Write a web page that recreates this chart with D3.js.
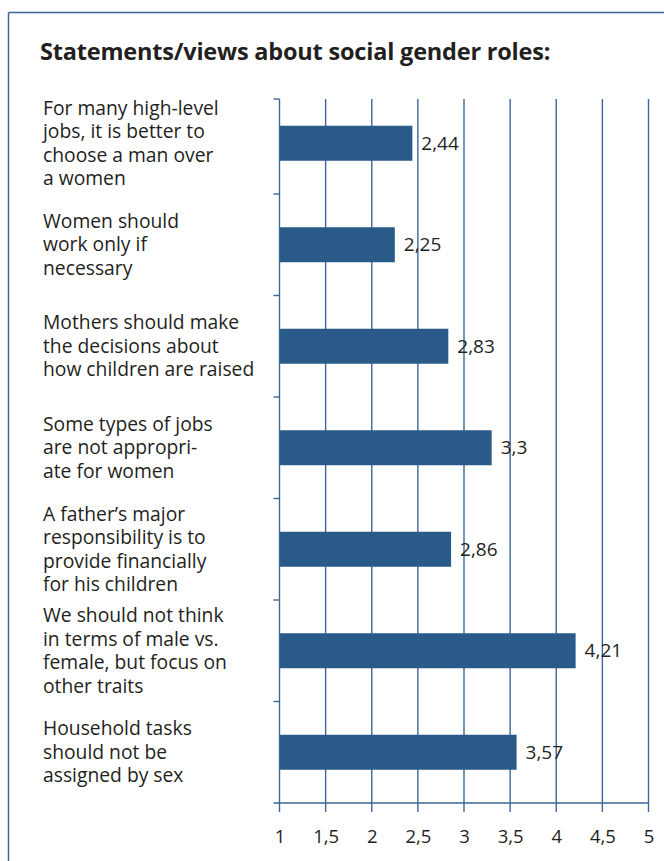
<!DOCTYPE html>
<html>
<head>
<meta charset="utf-8">
<script src="https://cdn.jsdelivr.net/npm/d3@7"></script>
<style>
  html, body { margin: 0; padding: 0; background: #fff; }
  svg { display: block; }
  text { font-family: "Open Sans", "Noto Sans", sans-serif; fill: #231f20; }
</style>
</head>
<body>
<svg id="chart" width="664" height="861"></svg>
<script>
// Survey statements (label lines) and mean agreement scores
const statements = [
  ["For many high-level", "jobs, it is better to", "choose a man over", "a women"],
  ["Women should", "work only if", "necessary"],
  ["Mothers should make", "the decisions about", "how children are raised"],
  ["Some types of jobs", "are not appropri-", "ate for women"],
  ["A father\u2019s major", "responsibility is to", "provide financially", "for his children"],
  ["We should not think", "in terms of male vs.", "female, but focus on", "other traits"],
  ["Household tasks", "should not be", "assigned by sex"]
];
const scores = [2.44, 2.25, 2.83, 3.3, 2.86, 4.21, 3.57];
const xTicks = [1, 1.5, 2, 2.5, 3, 3.5, 4, 4.5, 5];
const title = "Statements/views about social gender roles:";

const locale = d3.formatLocale({ decimal: ",", thousands: ".", grouping: [3], currency: ["", "\u20ac"] });
const fmt = v => locale.format("~g")(v);

const svg = d3.select("#chart");
const blue = "#2a5a88";
const gridBlue = "#3d6796";

// Panel frame: top and left rules
svg.append("line").attr("x1", 8.5).attr("x2", 664).attr("y1", 12.5).attr("y2", 12.5)
  .attr("stroke", gridBlue).attr("stroke-width", 1.5);
svg.append("line").attr("x1", 8.5).attr("x2", 8.5).attr("y1", 12.5).attr("y2", 861)
  .attr("stroke", gridBlue).attr("stroke-width", 1.5);

svg.append("text").attr("x", 40).attr("y", 60)
  .attr("font-size", 23.5).attr("font-weight", "bold")
  .attr("letter-spacing", -0.2)
  .text(title);

const x0 = 279.5, x1 = 648.5, yBottom = 803, step = 101.5, yTop = 99;
const x = d3.scaleLinear().domain([1, 5]).range([x0, x1]);
const y = d3.scaleBand().domain(d3.range(statements.length))
  .range([yBottom - step * statements.length, yBottom]).padding(0);

// Vertical gridlines with ticks below the axis
const grid = svg.append("g");
grid.selectAll("line").data(xTicks.slice(1)).join("line")
  .attr("x1", d => x(d)).attr("x2", d => x(d))
  .attr("y1", yTop).attr("y2", yBottom + 9)
  .attr("stroke", gridBlue).attr("stroke-width", 1.4);

// Bars
const barH = 35;
svg.append("g").selectAll("rect").data(scores).join("rect")
  .attr("x", x(1))
  .attr("y", (d, i) => y(i) + y.bandwidth() / 2 - barH / 2)
  .attr("width", d => x(d) - x(1))
  .attr("height", barH)
  .attr("fill", blue);

// Left axis with ticks at band boundaries
const yAxis = svg.append("g");
yAxis.append("line").attr("x1", x0).attr("x2", x0).attr("y1", yTop).attr("y2", yBottom + 9)
  .attr("stroke", gridBlue).attr("stroke-width", 1.4);
const bounds = d3.range(statements.length).map(i => i === 0 ? yTop : y(i));
yAxis.selectAll(".tk").data(bounds).join("line").attr("class", "tk")
  .attr("x1", x0 - 6).attr("x2", x0).attr("y1", d => d).attr("y2", d => d)
  .attr("stroke", gridBlue).attr("stroke-width", 1.4);

// Bottom axis
const xAxis = d3.axisBottom(x).tickValues(xTicks).tickFormat(fmt).tickSize(0).tickPadding(0);
const gx = svg.append("g").attr("transform", `translate(0,${yBottom})`).call(xAxis);
gx.select(".domain").remove();
gx.selectAll("text").attr("font-size", 18.5).attr("dy", null).attr("y", 40)
  .style("font-family", "'Open Sans', 'Noto Sans', sans-serif").attr("fill", "#231f20");
svg.append("line").attr("x1", x0 - 6).attr("x2", x1).attr("y1", yBottom).attr("y2", yBottom)
  .attr("stroke", gridBlue).attr("stroke-width", 1.4);

// Value labels
svg.append("g").selectAll("text").data(scores).join("text")
  .attr("x", d => x(d) + 9)
  .attr("y", (d, i) => y(i) + y.bandwidth() / 2 + 6.5)
  .attr("font-size", 19)
  .text(d => fmt(d));

// Category labels, vertically centred on each band
const lh = 23.5;
const labels = svg.append("g").selectAll("text").data(statements).join("text")
  .attr("x", 43)
  .attr("y", (d, i) => y(i) + y.bandwidth() / 2 - (d.length - 1) * lh / 2 + 6.5)
  .attr("font-size", 19.3);
labels.selectAll("tspan").data(d => d).join("tspan")
  .attr("x", 43).attr("dy", (d, i) => i === 0 ? 0 : lh)
  .text(d => d);
</script>
</body>
</html>
